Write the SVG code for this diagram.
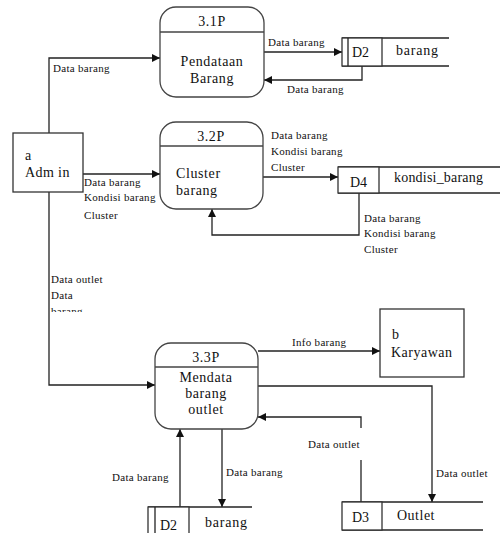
<svg xmlns="http://www.w3.org/2000/svg" width="500" height="533" viewBox="0 0 500 533" font-family="'Liberation Serif', 'Times New Roman', 'DejaVu Serif', serif">
<defs>
<style>
text{font-family:'Liberation Serif','Times New Roman','DejaVu Serif',serif;fill:#111}
.lb{font-size:11px;letter-spacing:0.3px}
.pt{font-size:14px;letter-spacing:0.6px}
.st{font-size:14px}
.proc{fill:#fff;stroke:#444;stroke-width:1.3}
.box{fill:#fff;stroke:#333;stroke-width:1.3}
.ln{fill:none;stroke:#222;stroke-width:1.3}
.arr{fill:none;stroke:#222;stroke-width:1.3;marker-end:url(#ah)}
</style>
<marker id="ah" viewBox="0 0 10 10" refX="10" refY="5" markerWidth="8" markerHeight="8" markerUnits="userSpaceOnUse" orient="auto">
<path d="M0,0 L10,5 L0,10 z" fill="#111"/>
</marker>
<clipPath id="clipLbl"><rect x="40" y="260" width="100" height="52"/></clipPath>
</defs>

<g id="connectors">
<polyline class="arr" points="49,133 49,58 160,58"/>
<line class="arr" x1="83" y1="174" x2="160" y2="174"/>
<polyline class="arr" points="49,192 49,385 155,385"/>
<line class="arr" x1="264" y1="52" x2="342" y2="52"/>
<polyline class="arr" points="362,66 362,80 264,80"/>
<line class="arr" x1="263" y1="177" x2="338" y2="177"/>
<polyline class="arr" points="359,193 359,235 212,235 212,209"/>
<line class="arr" x1="258" y1="351" x2="380" y2="351"/>
<polyline class="arr" points="258,386 432,386 432,502"/>
<line class="ln" x1="361" y1="502" x2="361" y2="460"/>
<polyline class="arr" points="361,428 361,417 258,417"/>
<line class="arr" x1="180" y1="507" x2="180" y2="429"/>
<line class="arr" x1="222" y1="429" x2="222" y2="507"/>
</g>

<g id="labels">
<text class="lb" x="53" y="72">Data barang</text>
<text class="lb" x="84" y="186">Data barang</text>
<text class="lb" x="84" y="201">Kondisi barang</text>
<text class="lb" x="84" y="219">Cluster</text>
<g clip-path="url(#clipLbl)">
<text class="lb" x="51" y="283">Data outlet</text>
<text class="lb" x="51" y="299">Data</text>
<text class="lb" x="51" y="315">barang</text>
</g>
<text class="lb" x="268" y="46">Data barang</text>
<text class="lb" x="287" y="93">Data barang</text>
<text class="lb" x="271" y="139">Data barang</text>
<text class="lb" x="271" y="155">Kondisi barang</text>
<text class="lb" x="271" y="171">Cluster</text>
<text class="lb" x="364" y="222">Data barang</text>
<text class="lb" x="364" y="237">Kondisi barang</text>
<text class="lb" x="364" y="253">Cluster</text>
<text class="lb" x="292" y="346">Info barang</text>
<text class="lb" x="308" y="448">Data outlet</text>
<text class="lb" x="436" y="477">Data outlet</text>
<text class="lb" x="112" y="481">Data barang</text>
<text class="lb" x="226" y="476">Data barang</text>
</g>

<g id="admin">
<rect class="box" x="13" y="133" width="70" height="59"/>
<text class="st" x="25" y="160">a</text>
<text class="st" x="25" y="177" letter-spacing="0.4">Adm in</text>
</g>

<g id="karyawan">
<rect class="box" x="380" y="309" width="84" height="68"/>
<text class="st" x="392" y="339">b</text>
<text class="st" x="391" y="357" letter-spacing="0.5">Karyawan</text>
</g>

<g id="p31">
<rect class="proc" x="160" y="7" width="104" height="90" rx="16"/>
<line class="proc" x1="160" y1="32" x2="264" y2="32"/>
<text class="pt" x="212" y="26" text-anchor="middle">3.1P</text>
<text class="pt" x="212" y="66" text-anchor="middle">Pendataan</text>
<text class="pt" x="212" y="83" text-anchor="middle">Barang</text>
</g>

<g id="p32">
<rect class="proc" x="160" y="122" width="103" height="87" rx="16"/>
<line class="proc" x1="160" y1="146" x2="263" y2="146"/>
<text class="pt" x="211" y="141" text-anchor="middle">3.2P</text>
<text class="pt" x="176" y="178">Cluster</text>
<text class="pt" x="176" y="195">barang</text>
</g>

<g id="p33">
<rect class="proc" x="155" y="343" width="103" height="86" rx="16"/>
<line class="proc" x1="155" y1="367" x2="258" y2="367"/>
<text class="pt" x="206" y="362" text-anchor="middle">3.3P</text>
<text class="pt" x="206" y="382" text-anchor="middle">Mendata</text>
<text class="pt" x="206" y="398" text-anchor="middle">barang</text>
<text class="pt" x="206" y="414" text-anchor="middle">outlet</text>
</g>

<g id="d2top">
<line class="ln" x1="342" y1="38" x2="449" y2="38"/>
<line class="ln" x1="342" y1="66" x2="449" y2="66"/>
<rect class="box" x="342" y="38" width="40" height="28"/>
<line class="ln" x1="348" y1="38" x2="348" y2="66"/>
<text class="st" x="352" y="57" font-size="13">D2</text>
<text class="st" x="396" y="55" font-size="15" letter-spacing="0.8">barang</text>
</g>

<g id="d4">
<line class="ln" x1="338" y1="167" x2="500" y2="167"/>
<line class="ln" x1="338" y1="193" x2="500" y2="193"/>
<rect class="box" x="338" y="167" width="41" height="26"/>
<text class="st" x="350" y="187" font-size="13">D4</text>
<text class="st" x="394" y="182" font-size="15" letter-spacing="0.2">kondisi_barang</text>
</g>

<g id="d3">
<line class="ln" x1="342" y1="502" x2="483" y2="502"/>
<line class="ln" x1="342" y1="530" x2="483" y2="530"/>
<rect class="box" x="342" y="502" width="40" height="28"/>
<text class="st" x="352" y="522" font-size="13">D3</text>
<text class="st" x="397" y="520" font-size="15" letter-spacing="0.5">Outlet</text>
</g>

<g id="d2bottom">
<line class="ln" x1="148" y1="507" x2="252" y2="507"/>
<rect class="box" x="148" y="507" width="41" height="30"/>
<line class="ln" x1="155" y1="507" x2="155" y2="537"/>
<text class="st" x="160" y="530" font-size="13">D2</text>
<text class="st" x="205" y="527" font-size="15" letter-spacing="0.8">barang</text>
</g>
</svg>
